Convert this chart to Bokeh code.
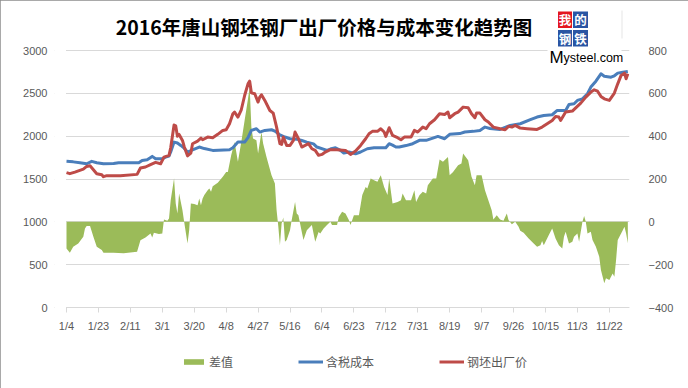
from bokeh.plotting import figure
from bokeh.models import (Range1d, LinearAxis, FixedTicker, Label, Legend, LegendItem,
                          BoxAnnotation)
from bokeh.embed import file_html
from bokeh.resources import INLINE

# ---------------- data (x = days since 2016-01-04) ----------------
tick_days = [0, 19, 38, 57, 76, 95, 114, 133, 152, 171, 190, 209, 228, 247, 266, 285, 304, 323]
tick_labels = ["1/4", "1/23", "2/11", "3/1", "3/20", "4/8", "4/27", "5/16", "6/4", "6/23",
               "7/12", "7/31", "8/19", "9/7", "9/26", "10/15", "11/3", "11/22"]
left_ticks = [0, 500, 1000, 1500, 2000, 2500, 3000]
right_ticks = [-400, -200, 0, 200, 400, 600, 800]

cost_day = [0, 4, 8, 12, 15, 18, 22, 28, 31, 43, 45, 48, 51, 53, 57, 59, 61, 62, 64, 66,
            68, 70, 72, 75, 79, 82, 87, 97, 99, 102, 106, 108, 110, 113, 115, 118, 122, 124, 127, 130,
            133, 137, 140, 143, 147, 149, 155, 157, 160, 163, 165, 168, 172, 175, 179, 183, 190, 192, 194, 196,
            198, 202, 206, 210, 214, 218, 221, 225, 228, 234, 237, 242, 246, 249, 252, 258, 264, 270, 276, 280,
            284, 289, 292, 297, 299, 302, 304, 307, 310, 312, 315, 318, 320, 324, 326, 328, 331, 334]
cost = [1706, 1700, 1690, 1678, 1706, 1690, 1678, 1680, 1690, 1690, 1717, 1725, 1764, 1737, 1737, 1756, 1768, 1815, 1931, 1920,
        1892, 1860, 1815, 1840, 1873, 1855, 1834, 1842, 1865, 1931, 1931, 1982, 2067, 2087, 2048, 2067, 2075, 2060, 2015, 1990,
        1970, 1965, 1950, 1931, 1910, 1873, 1834, 1850, 1865, 1834, 1803, 1815, 1795, 1815, 1853, 1865, 1865, 1912, 1895, 1873,
        1873, 1890, 1912, 1951, 1951, 1978, 1997, 1970, 2021, 2030, 2048, 2056, 2067, 2106, 2090, 2079, 2126, 2145, 2192, 2223,
        2242, 2250, 2300, 2300, 2370, 2378, 2417, 2436, 2495, 2573, 2642, 2728, 2700, 2689, 2705, 2736, 2745, 2755]

price_day = [0, 2, 5, 10, 12, 14, 16, 18, 21, 22, 24, 32, 42, 44, 47, 50, 53, 56, 58, 61,
             62, 64, 65, 66, 67, 69, 70, 72, 74, 75, 78, 80, 81, 84, 87, 90, 93, 95, 97, 99,
             100, 102, 104, 106, 108, 109, 110, 112, 114, 115, 116, 118, 121, 123, 125, 127, 128, 129, 131, 133,
             135, 136, 138, 140, 142, 144, 146, 148, 150, 152, 154, 157, 161, 166, 169, 172, 175, 178, 180, 182,
             185, 187, 189, 190, 192, 194, 197, 199, 201, 205, 207, 209, 212, 214, 216, 219, 222, 225, 227, 228,
             231, 233, 236, 239, 241, 243, 244, 246, 249, 251, 254, 258, 261, 263, 265, 267, 270, 274, 280, 283,
             286, 289, 291, 293, 294, 297, 301, 303, 306, 309, 312, 314, 316, 318, 320, 323, 326, 328, 330, 332,
             333, 334]
price = [1574, 1562, 1581, 1616, 1647, 1655, 1609, 1562, 1550, 1527, 1539, 1539, 1554, 1628, 1640, 1667, 1694, 1678, 1756, 1776,
         1865, 2130, 2120, 2000, 2020, 1950, 1880, 1770, 1803, 1912, 1943, 1978, 1958, 1989, 1982, 2021, 2067, 2075, 2145, 2262,
         2281, 2223, 2308, 2475, 2611, 2642, 2506, 2495, 2398, 2456, 2483, 2417, 2300, 2269, 2106, 1912, 1904, 1989, 1892, 1892,
         1951, 2048, 1970, 1873, 1892, 1912, 1853, 1834, 1776, 1787, 1815, 1842, 1842, 1834, 1787, 1826, 1892, 1970, 2028, 2056,
         2056, 2087, 2048, 1997, 2098, 2009, 1982, 1958, 1989, 1989, 2067, 2048, 2106, 2087, 2145, 2192, 2262, 2254, 2281, 2215,
         2262, 2281, 2339, 2331, 2262, 2215, 2269, 2269, 2192, 2165, 2106, 2087, 2075, 2114, 2106, 2126, 2094, 2087, 2079, 2106,
         2145, 2184, 2230, 2223, 2184, 2281, 2293, 2331, 2386, 2456, 2514, 2541, 2525, 2464, 2436, 2417, 2503, 2611, 2709, 2736,
         2670, 2728]

diff_day = [0, 2, 4, 7, 10, 11, 12, 14, 16, 18, 21, 22, 28, 34, 42, 44, 47, 50, 51, 52,
            55, 57, 58, 60, 61, 62, 64, 65, 66, 67, 69, 70, 72, 73, 74, 76, 78, 79, 80, 81,
            82, 84, 85, 86, 87, 90, 93, 95, 96, 98, 100, 102, 104, 106, 108, 109, 110, 111, 113, 114,
            116, 117, 119, 122, 124, 125, 126, 127, 128, 129, 130, 131, 133, 134, 136, 137, 138, 140, 141, 143,
            144, 146, 147, 148, 150, 151, 153, 155, 157, 158, 161, 162, 164, 166, 168, 169, 171, 174, 176, 178,
            179, 181, 183, 185, 187, 189, 191, 192, 194, 197, 199, 200, 202, 205, 207, 208, 210, 212, 214, 215,
            218, 220, 222, 224, 227, 228, 230, 233, 235, 236, 239, 241, 243, 244, 247, 249, 251, 253, 254, 256,
            258, 260, 262, 263, 265, 267, 269, 270, 272, 275, 278, 280, 282, 283, 284, 287, 289, 291, 293, 295,
            296, 297, 299, 301, 302, 304, 305, 307, 308, 309, 310, 312, 313, 315, 317, 318, 320, 321, 323, 324,
            325, 326, 327, 328, 330, 331, 332, 333, 334]
diff = [-124, -144, -116, -101, -70, -31, -19, -20, -70, -116, -132, -144, -144, -147, -140, -86, -73, -54, -73, -51,
        -57, -54, 11, 5, 16, 101, 202, 86, 39, 132, 54, 0, -101, -39, 86, 83, 78, 109, 78, 109,
        125, 148, 156, 140, 166, 182, 210, 233, 233, 311, 373, 280, 373, 474, 575, 630, 443, 389, 381, 319,
        420, 366, 303, 218, 179, 55, -20, -109, -8, 20, -93, -85, -39, 8, 93, 39, 31, -47, -85, -39,
        -31, -15, -54, -93, -47, -54, -31, -15, 0, -15, -15, 23, 47, 39, 8, -15, 31, 31, 125, 163,
        156, 202, 194, 187, 218, 163, 125, 202, 86, 93, 101, 132, 101, 101, 148, 93, 124, 140, 132, 171,
        202, 202, 291, 280, 303, 218, 233, 264, 272, 319, 288, 210, 171, 218, 218, 148, 101, 54, 11, 31,
        11, 5, 39, 8, -11, 0, -23, -42, -51, -78, -101, -116, -109, -89, -109, -62, -31, -78, -109, -124,
        -70, -46, -101, -93, -70, -54, -93, 0, 27, 0, -54, -46, -85, -116, -163, -225, -287, -264, -272, -256,
        -241, -256, -179, -85, -54, -39, -23, -54, -100]

series_names = ["差值", "含税成本", "钢坯出厂价"]
title_text = "2016年唐山钢坯钢厂出厂价格与成本变化趋势图"

# ---------------- styles / geometry ----------------
GREEN, BLUE, RED = "#9bbb59", "#4a7ebb", "#be4b48"
GRID = "#d9d9d9"
LBL = "#595959"
NUMFONT = "Liberation Sans"
CJK = "Noto Sans CJK SC"

W, H = 688, 388
PLOT_L, PLOT_R = 66, 629              # page x of the plotting area (day 0 .. x_end)
X_END = 335
FL, FR, FT, FB = 54, 629, 2, 386      # frame edges (frame also holds title, logo, legend)
GRID_TOP, AXIS_Y = 50, 307            # page y of the top gridline and of the x axis
px_day = (PLOT_R - PLOT_L) / X_END
x_lo = -(PLOT_L - FL) / px_day
px_left = (left_ticks[-1] - left_ticks[0]) / (AXIS_Y - GRID_TOP)
px_right = (right_ticks[-1] - right_ticks[0]) / (AXIS_Y - GRID_TOP)
y_lo = left_ticks[0] - (FB - AXIS_Y) * px_left
y_hi = left_ticks[-1] + (GRID_TOP - FT) * px_left
r_lo = right_ticks[0] - (FB - AXIS_Y) * px_right
r_hi = right_ticks[-1] + (GRID_TOP - FT) * px_right

p = figure(width=W, height=H, frame_width=FR - FL, frame_height=FB - FT,
           min_border_left=FL, min_border_right=W - FR, min_border_top=FT, min_border_bottom=H - FB,
           x_range=Range1d(x_lo, X_END), y_range=Range1d(y_lo, y_hi),
           output_backend="svg", toolbar_location=None,
           background_fill_color="white", border_fill_color="white", outline_line_color=None,
           stylesheets=[":host { outline: 1px solid #8c8c8c; outline-offset: -1px; }"])
p.extra_y_ranges = {"diff": Range1d(r_lo, r_hi)}

# grids
p.xgrid.visible = False
p.ygrid.ticker = FixedTicker(ticks=left_ticks)
p.ygrid.grid_line_color = GRID
p.ygrid.grid_line_width = 1

# left axis
ya = p.yaxis[0]
ya.ticker = FixedTicker(ticks=left_ticks)
ya.axis_line_color = None
ya.major_tick_line_color = None
ya.minor_tick_line_color = None
ya.major_label_standoff = 13 - (PLOT_L - FL)
ya.major_label_text_font = NUMFONT
ya.major_label_text_font_size = "11px"
ya.major_label_text_color = LBL

# right axis
ra = LinearAxis(y_range_name="diff", ticker=FixedTicker(ticks=right_ticks))
ra.axis_line_color = None
ra.major_tick_line_color = None
ra.minor_tick_line_color = None
ra.major_label_standoff = 13
ra.major_label_text_font = NUMFONT
ra.major_label_text_font_size = "11px"
ra.major_label_text_color = LBL
p.add_layout(ra, "right")

# x axis, drawn at value 0 of the left scale
xa = p.xaxis[0]
xa.fixed_location = left_ticks[0]
xa.ticker = FixedTicker(ticks=tick_days)
xa.major_label_overrides = {d: l for d, l in zip(tick_days, tick_labels)}
xa.axis_line_color = GRID
xa.major_tick_line_color = GRID
xa.major_tick_out = 5
xa.major_tick_in = 0
xa.minor_tick_line_color = None
xa.major_label_standoff = 7
xa.major_label_text_font = NUMFONT
xa.major_label_text_font_size = "11px"
xa.major_label_text_color = LBL

# glyphs
r_area = p.varea(x=diff_day, y1=0, y2=diff, y_range_name="diff", fill_color=GREEN, fill_alpha=1)
r_cost = p.line(x=cost_day, y=cost, line_color=BLUE, line_width=3, line_join="round")
r_price = p.line(x=price_day, y=price, line_color=RED, line_width=3, line_join="round")

# helpers: page coords -> frame-relative screen coords
def sx(ax):
    return ax - FL

def sy(ay):
    return FB - ay

def box(l, r, t, b, color):
    return BoxAnnotation(left=sx(l), right=sx(r), top=sy(t), bottom=sy(b),
                         left_units="screen", right_units="screen", top_units="screen", bottom_units="screen",
                         fill_color=color, fill_alpha=1, line_color=None)

# blank margin left of the plotting area (gridlines start at day 0)
p.add_layout(box(FL, PLOT_L - 0.5, FT, AXIS_Y + 0.6, "white"))

# legend (inside the frame, under the axis)
legend = Legend(items=[LegendItem(label=series_names[0], renderers=[r_area]),
                       LegendItem(label=series_names[1], renderers=[r_cost]),
                       LegendItem(label=series_names[2], renderers=[r_price])],
                orientation="horizontal", location=(181 - FL, 16),
                border_line_color=None, background_fill_alpha=0,
                padding=0, margin=0, spacing=65, label_standoff=3,
                glyph_width=25, glyph_height=7, label_height=14,
                label_text_font=CJK, label_text_font_size="12px", label_text_color=LBL)
p.add_layout(legend)

# title
p.add_layout(Label(x=sx(323.5), y=sy(25.5), x_units="screen", y_units="screen", text=title_text,
                   text_align="center", text_baseline="middle", text_font=CJK,
                   text_font_size="19.5px", text_font_style="bold", text_color="black"))

# logo
p.add_layout(box(547, 621, 8, 59, "white"))
p.add_layout(box(621, 622, 10, 38, "#e6e6e6"))
LRED, LBLUE = "#e4161e", "#2a55a3"
cells = [("我", 557.5, 571.5, 11, 27.5, LRED), ("的", 572.5, 587.5, 11, 27.5, LBLUE),
         ("钢", 557.5, 571.5, 29.5, 46, LBLUE), ("铁", 572.5, 587.5, 29.5, 46, LBLUE)]
for ch, l, r, t, b, c in cells:
    p.add_layout(box(l, r, t, b, c))
    p.add_layout(Label(x=sx((l + r) / 2), y=sy((t + b) / 2), x_units="screen", y_units="screen",
                       text=ch, text_align="center", text_baseline="middle", text_font=CJK,
                       text_font_size="12.5px", text_font_style="bold", text_color="white"))
p.add_layout(Label(x=sx(549), y=sy(57), x_units="screen", y_units="screen", text="M",
                   text_align="left", text_baseline="alphabetic", text_font=NUMFONT,
                   text_font_size="17px", text_color="black"))
p.add_layout(Label(x=sx(563), y=sy(57), x_units="screen", y_units="screen", text="ysteel.com",
                   text_align="left", text_baseline="alphabetic", text_font=NUMFONT,
                   text_font_size="12.5px", text_color="black"))

open("out.html", "w").write(file_html(p, INLINE))
